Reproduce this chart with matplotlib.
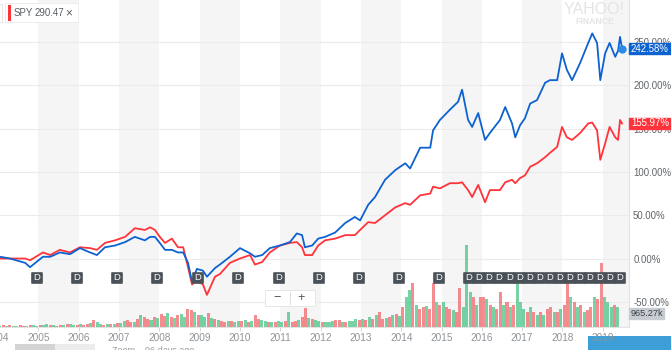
import numpy as np
import matplotlib
matplotlib.use('Agg')
import matplotlib.pyplot as plt
import matplotlib.transforms as mtrans
from matplotlib.patches import Rectangle
from matplotlib.markers import MarkerStyle

plt.rcParams['font.family'] = ['Liberation Sans', 'DejaVu Sans']

# ---- data (cumulative % change since start) ----
dates = [2004.05, 2004.29, 2004.67, 2004.79,
         2005.11, 2005.29, 2005.53, 2005.78,
         2006.03, 2006.28, 2006.45, 2006.65, 2006.90,
         2007.15, 2007.39, 2007.64, 2007.77, 2007.89,
         2008.01, 2008.14, 2008.31, 2008.46, 2008.59, 2008.71, 2008.81, 2008.93,
         2009.08, 2009.18, 2009.38, 2009.50, 2009.75,
         2010.00, 2010.25, 2010.37, 2010.55, 2010.74, 2010.99,
         2011.24, 2011.41, 2011.54, 2011.61, 2011.79, 2011.94,
         2012.11, 2012.36, 2012.61, 2012.85, 2012.98,
         2013.18, 2013.35, 2013.60, 2013.85,
         2014.10, 2014.22, 2014.47, 2014.72, 2014.79, 2014.96,
         2015.21, 2015.41, 2015.51, 2015.66, 2015.76, 2015.91,
         2016.08, 2016.20, 2016.45, 2016.58, 2016.75, 2016.83, 2016.95,
         2017.07, 2017.20, 2017.37, 2017.57, 2017.69, 2017.87, 2017.99,
         2018.11, 2018.24, 2018.44, 2018.64, 2018.74, 2018.86, 2018.94,
         2019.06, 2019.17, 2019.31, 2019.38, 2019.43, 2019.48]

fund = [2, 0, -5, -10,
        2, 2, 7, 5,
        12, 7, 4, 13, 15,
        19, 25, 21, 25, 25,
        18, 10, 10, 7, 7, -5, -27, -12,
        -14, -21, -11, -7, 2,
        12, 6, 2, 4, 12, 15,
        19, 29, 27, 13, 15, 23,
        25, 30, 41, 48, 44,
        62, 71, 91, 102,
        110, 104, 128, 128, 148, 160,
        172, 181, 195, 160, 152, 168,
        137, 145, 160, 175, 156, 140, 154,
        162, 179, 183, 203, 206, 206, 237,
        218, 206, 226, 249, 260, 249, 206,
        237, 249, 233, 240, 256, 242.58]

spy = [0, 0, 0, -2,
       7, 4, 10, 7,
       13, 12, 10, 18, 21,
       25, 35, 33, 36, 33,
       25, 18, 23, 13, 13, -10, -30, -25,
       -30, -42, -21, -18, -5,
       0, 4, -7, -4, 7, 15,
       18, 19, 13, 4, 4, 15,
       21, 23, 27, 27, 33,
       42, 41, 50, 59,
       64, 62, 73, 75, 83, 81,
       87, 87, 88, 79, 71, 85,
       65, 79, 79, 88, 91, 87, 93,
       96, 106, 110, 117, 122, 129, 152,
       140, 137, 145, 156, 157, 148, 114,
       133, 152, 140, 137, 160, 155.97]

# monthly volume (relative units), Jan 2004 .. May 2019
volume = ([1, 2, 1, 2, 1, 1, 2, 1, 1, 2, 2, 1] +
          [2, 2, 3, 2, 2, 1, 2, 2, 3, 3, 2, 2] +
          [3, 2, 3, 4, 7, 5, 3, 2, 3, 3, 3, 4] +
          [4, 6, 7, 5, 5, 8, 12, 10, 8, 7, 10, 9] +
          [13, 11, 14, 10, 9, 12, 13, 10, 18, 17, 15, 12] +
          [12, 10, 14, 9, 8, 7, 6, 5, 6, 6, 5, 6] +
          [6, 7, 5, 6, 12, 8, 7, 6, 5, 5, 5, 6] +
          [5, 6, 15, 5, 6, 7, 10, 19, 9, 8, 7, 6] +
          [5, 5, 5, 6, 7, 7, 5, 5, 6, 6, 8, 7] +
          [8, 7, 10, 8, 12, 15, 8, 9, 10, 12, 13, 11] +
          [20, 30, 37, 44, 22, 18, 20, 21, 18, 44, 25, 22] +
          [25, 20, 18, 17, 15, 39, 20, 82, 35, 30, 22, 30] +
          [30, 28, 22, 20, 18, 35, 22, 25, 20, 22, 54, 25] +
          [18, 15, 20, 15, 12, 15, 12, 18, 20, 15, 15, 18] +
          [22, 50, 30, 25, 20, 22, 15, 17, 20, 30, 28, 64] +
          [30, 25, 20, 22, 20])
vol_up = ("grgrggrrgrgg" "rggrgrrgrggr" "grrgrggrgrgr" "ggrrgrgrrgrg"
          "rrgrgrggrrgr" "ggrgrgrrgrgg" "rgrgrrggrgrg" "grgrrgrrgrgg"
          "rgggrrgrgggr" "grgrgrrgrgrg" "rggrgrrgrrgr" "grrgrrgggrgr"
          "rgrgrrgrgrgg" "grgrgrgrrgrg" "rrgrgrgrrgrr" "gggrg")
vol_start = 2004

div_dates = [2004.96, 2005.96, 2006.95, 2007.94, 2008.96, 2009.95, 2010.97,
             2011.96, 2012.95, 2013.94, 2014.94,
             2015.68, 2015.93, 2016.18, 2016.43, 2016.68, 2016.93, 2017.18,
             2017.43, 2017.68, 2017.93, 2018.18, 2018.43, 2018.68, 2018.93,
             2019.18, 2019.43]

year_ticks = list(range(2005, 2020))
pct_ticks = [-50, 0, 50, 100, 150, 200, 250]

fund_last = "242.58%"
spy_last = "155.97%"
vol_last = "965.27k"

# ---- layout helpers (pixels -> figure fraction) ----
W, H = 671, 350


def fx(px):
    return px / W


def fy(py):
    return 1 - py / H


fig = plt.figure(figsize=(W / 100, H / 100), dpi=100)
ax = fig.add_axes([0, fy(327), fx(629), 327 / H])
vx = ax.twinx()   # volume axis, twinx flips ax ticks to the left so set them after
ax.set_xlim(2004.045, 2019.652)
ax.set_ylim(-79.1, 298.6)

# alternating year bands
for y in range(2005, 2021, 2):
    ax.axvspan(y, y + 1, color='#f5f5f5', lw=0, zorder=0)

ax.set_yticks(pct_ticks)
ax.set_yticklabels([f'{v:.2f}%' for v in pct_ticks])
ax.yaxis.tick_right()
ax.tick_params(axis='y', length=0, pad=3, labelsize=6.9, labelcolor='#5f6469')
ax.grid(axis='y', color='#ebebeb', lw=0.8, zorder=1)

ax.set_xticks(year_ticks)
ax.set_xticklabels([str(y) for y in year_ticks])
ax.tick_params(axis='x', length=3, width=0.6, color='#cfcfcf', pad=1.5,
               labelsize=7.2, labelcolor='#8e9398')
ax.text(2004, -0.034, '2004', transform=mtrans.blended_transform_factory(ax.transData, ax.transAxes),
        ha='center', va='center', fontsize=7.2, color='#8e9398', clip_on=False)

for s in ['top', 'left']:
    ax.spines[s].set_visible(False)
ax.spines['right'].set_color('#e3e3e3')
ax.spines['bottom'].set_color('#e3e3e3')
ax.spines['right'].set_linewidth(0.8)
ax.spines['bottom'].set_linewidth(0.8)

ax.plot(dates, spy, color='#ff333a', lw=1.3, zorder=3)
ax.plot(dates, fund, color='#0c62d0', lw=1.3, zorder=4)
ax.plot(dates[-1], fund[-1], 'o', color='#2b8be6', ms=5, zorder=5)

# volume bars
vx.set_ylim(0, 327)
vx.axis('off')
vol_x = vol_start + (np.arange(len(volume)) + 0.5) / 12
vol_cols = ['#49c488' if c == 'g' else '#f2676b' for c in vol_up]
vx.bar(vol_x, volume, width=0.075, color=vol_cols, alpha=0.75, lw=0, zorder=2)

# last value badges on the right (drawn on vx so they sit above the tick labels)
lab = mtrans.blended_transform_factory(ax.transAxes, ax.transData)
for val, txt, col in [(fund[-1], fund_last, '#0c62d0'), (spy[-1], spy_last, '#ff333a')]:
    vx.add_patch(Rectangle((1.0, val - 6.2), 42 / 629, 12.4, transform=lab,
                           color=col, clip_on=False, zorder=6))
    vx.text(1.0 + 2 / 629, val, txt, transform=lab, ha='left', va='center',
            fontsize=6.9, color='white', clip_on=False, zorder=7)

# dividend markers
dtr = mtrans.blended_transform_factory(vx.transData, vx.transAxes)
dy = (327 - 278) / 327
sq = MarkerStyle('s', joinstyle='round')
vx.plot(div_dates, [dy] * len(div_dates), ls='none', marker=sq, ms=7.6,
        mfc='#4a5158', mec='#4a5158', mew=1.2, transform=dtr, zorder=8, clip_on=False)
for d in div_dates:
    vx.text(d, dy, 'D', transform=dtr, ha='center', va='center', fontsize=6.8,
            color='white', zorder=9)

# volume value badge
fig.patches.append(Rectangle((fx(629), fy(319)), fx(664) - fx(629), fy(308) - fy(319),
                             transform=fig.transFigure, color='#c7ccd2', zorder=5))
fig.text(fx(646.5), fy(313.5), vol_last, ha='center', va='center', fontsize=6.6, color='#3c4146', zorder=6)

# legend chip
fig.patches.append(Rectangle((fx(5), fy(23)), fx(74), fy(3) - fy(23), transform=fig.transFigure,
                             fc='#ededed', ec='none', zorder=4))
fig.patches.append(Rectangle((fx(6), fy(22)), fx(72), fy(4) - fy(22), transform=fig.transFigure,
                             fc='white', ec='none', zorder=5))
fig.patches.append(Rectangle((fx(8), fy(21)), fx(2.5), fy(5) - fy(21), transform=fig.transFigure,
                             fc='#ff333a', ec='none', zorder=6))
fig.patches.append(Rectangle((fx(-3), fy(22)), fx(5), fy(4) - fy(22), transform=fig.transFigure,
                             fc='white', ec='#e0e0e0', lw=0.6, zorder=5))
fig.text(fx(14), fy(13.5), 'SPY', ha='left', va='center', fontsize=7, color='#5a5f64', zorder=7)
fig.text(fx(35), fy(13.5), '290.47', ha='left', va='center', fontsize=7, color='#5a5f64', zorder=7)
fig.text(fx(69), fy(13), '×', ha='center', va='center', fontsize=8.5, color='#5a5f64', zorder=7)

# watermark
fig.text(fx(594), fy(10), 'YAHOO!', ha='center', va='center', fontsize=11.5, color='#e4e4e4',
         family=['Liberation Sans Narrow', 'Liberation Sans'], zorder=3)
fig.text(fx(594.5), fy(22), 'FINANCE', ha='center', va='center', fontsize=6.2, color='#e4e4e4',
         weight='bold', zorder=3)

# zoom buttons
fig.patches.append(Rectangle((fx(265), fy(306)), fx(50), fy(290) - fy(306), transform=fig.transFigure,
                             fc='white', ec='#e6e6e6', lw=0.7, zorder=6))
fig.lines.append(plt.Line2D([fx(289.5), fx(289.5)], [fy(292), fy(304)], transform=fig.transFigure,
                            color='#dddddd', lw=0.7, zorder=7))
fig.text(fx(277), fy(298), '−', ha='center', va='center', fontsize=9, color='#4f555a', zorder=7)
fig.text(fx(301), fy(298), '+', ha='center', va='center', fontsize=9, color='#4f555a', zorder=7)

# bottom strip pieces
fig.patches.append(Rectangle((fx(588), 0), fx(83), fy(336) - 0, transform=fig.transFigure,
                             fc='#3d9ed8', ec='none', zorder=-1))
fig.patches.append(Rectangle((fx(15), 0), fx(40), fy(344), transform=fig.transFigure,
                             fc='#d3d3d3', ec='none', zorder=-1))
fig.patches.append(Rectangle((fx(55), 0), fx(40), fy(344), transform=fig.transFigure,
                             fc='#ececec', ec='none', zorder=-1))
fig.text(fx(112), fy(346), 'Zoom    96 days ago', ha='left', va='top', fontsize=6.5, color='#9a9a9a')

fig.savefig('out.png', dpi=100)
